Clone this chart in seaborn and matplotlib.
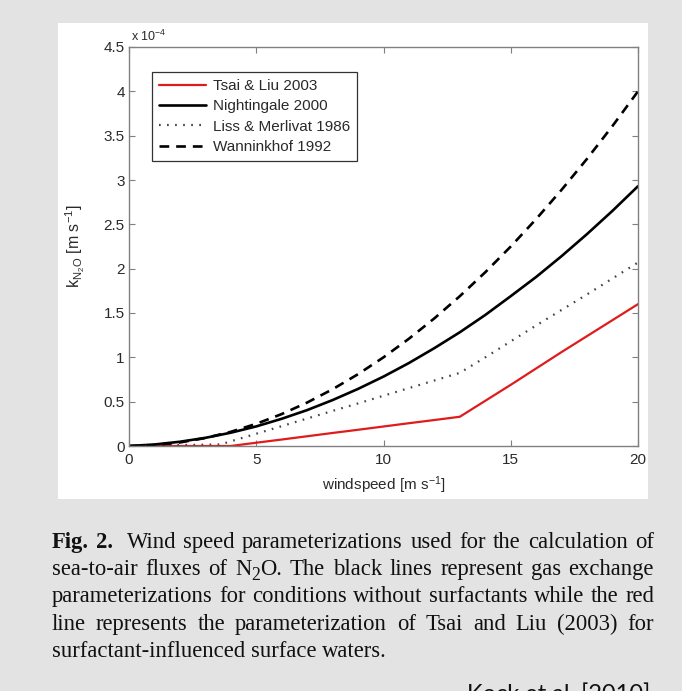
import matplotlib
matplotlib.use("Agg")
import matplotlib.pyplot as plt
import seaborn as sns
from matplotlib.patches import Rectangle
from matplotlib.transforms import IdentityTransform
from matplotlib.ticker import FixedLocator, FuncFormatter

# ---------------- data (k in units of 1e-4 m/s) ----------------
wind_tsai = [0, 1, 2, 3, 4, 5, 6, 7, 8, 9, 10, 11, 12, 13, 14, 15, 16, 17, 18, 19, 20]
k_tsai = [0, 0, 0, 0, 0, 0.037, 0.073, 0.11, 0.147, 0.183, 0.22, 0.257, 0.293, 0.33,
          0.51, 0.69, 0.875, 1.06, 1.24, 1.42, 1.60]

wind_night = [0, 1, 2, 3, 4, 5, 6, 7, 8, 9, 10, 11, 12, 13, 14, 15, 16, 17, 18, 19, 20]
k_night = [0, 0.017, 0.048, 0.092, 0.150, 0.221, 0.307, 0.405, 0.518, 0.644, 0.783,
           0.936, 1.104, 1.283, 1.478, 1.69, 1.907, 2.142, 2.391, 2.653, 2.93]

wind_liss = [0, 1, 2, 3, 3.6, 4, 5, 6, 7, 8, 9, 10, 11, 12, 13, 14, 15, 16, 17, 18, 19, 20]
k_liss = [0, 0.005, 0.010, 0.015, 0.018, 0.053, 0.138, 0.224, 0.31, 0.396, 0.48, 0.567,
          0.653, 0.739, 0.825, 1.0, 1.18, 1.36, 1.535, 1.71, 1.89, 2.07]

wind_wann = [0, 1, 2, 3, 4, 5, 6, 7, 8, 9, 10, 11, 12, 13, 14, 15, 16, 17, 18, 19, 20]
k_wann = [0, 0.01, 0.04, 0.09, 0.16, 0.25, 0.36, 0.49, 0.64, 0.81, 1.00, 1.21, 1.44,
          1.69, 1.96, 2.25, 2.56, 2.89, 3.24, 3.61, 4.00]

series_labels = ["Tsai & Liu 2003", "Nightingale 2000", "Liss & Merlivat 1986", "Wanninkhof 1992"]
x_ticks = [0, 5, 10, 15, 20]
y_ticks = [0, 0.5, 1, 1.5, 2, 2.5, 3, 3.5, 4, 4.5]

caption_lines = [
    "Fig. 2.  Wind speed parameterizations used for the calculation of",
    "sea-to-air fluxes of N2O. The black lines represent gas exchange",
    "parameterizations for conditions without surfactants while the red",
    "line represents the parameterization of Tsai and Liu (2003) for",
    "surfactant-influenced surface waters.",
]
source_text = "Kock et al. [2010]"

# ---------------- style ----------------
sns.set_theme(style="white")
plt.rcParams["font.family"] = ["Liberation Sans", "DejaVu Sans"]
plt.rcParams["mathtext.fontset"] = "custom"
plt.rcParams["mathtext.rm"] = "Liberation Sans"
plt.rcParams["mathtext.it"] = "Liberation Sans:italic"
plt.rcParams["mathtext.bf"] = "Liberation Sans:bold"
plt.rcParams["lines.scale_dashes"] = False

W, H = 682, 691
fig = plt.figure(figsize=(W / 100, H / 100), dpi=100)
fig.patch.set_facecolor("#e3e3e3")

# white panel behind the chart
panel = Rectangle((58 / W, 1 - 499 / H), (648 - 58) / W, (499 - 23) / H,
                  transform=fig.transFigure, facecolor="white",
                  edgecolor="none", zorder=-10)
fig.add_artist(panel)

ax = fig.add_axes([129 / W, 1 - 446 / H, (638 - 129) / W, (446 - 47) / H])
ax.set_zorder(1)
ax.set_facecolor("white")

TXT = "#2a2a2a"
sns.lineplot(x=wind_tsai, y=k_tsai, ax=ax, color="#e01b1b", lw=1.6,
             label=series_labels[0], errorbar=None)
sns.lineplot(x=wind_night, y=k_night, ax=ax, color="black", lw=1.9,
             label=series_labels[1], errorbar=None)
sns.lineplot(x=wind_liss, y=k_liss, ax=ax, color="#444444", lw=1.6,
             label=series_labels[2], errorbar=None)
ax.lines[-1].set_dashes([1.2, 4.6])
sns.lineplot(x=wind_wann, y=k_wann, ax=ax, color="black", lw=1.9,
             label=series_labels[3], errorbar=None)
ax.lines[-1].set_dashes([7, 5])

ax.set_xlim(0, 20)
ax.set_ylim(0, 4.5)
ax.xaxis.set_major_locator(FixedLocator(x_ticks))
ax.yaxis.set_major_locator(FixedLocator(y_ticks))
fmt = FuncFormatter(lambda v, p: "%g" % v)
ax.xaxis.set_major_formatter(fmt)
ax.yaxis.set_major_formatter(fmt)

for s in ax.spines.values():
    s.set_visible(True)
    s.set_color("#808080")
    s.set_linewidth(1.0)
ax.tick_params(axis="both", which="major", direction="in", length=4, width=0.8,
               color="#808080", labelsize=11, labelcolor=TXT,
               top=True, right=True, bottom=True, left=True)
ax.tick_params(axis="y", pad=3)
ax.tick_params(axis="x", pad=5)

ax.set_xlabel(r"windspeed [m s$^{-1}$]", fontsize=11, color=TXT)
ax.set_ylabel(r"k$_{\mathrm{N_2O}}$ [m s$^{-1}$]", fontsize=11.5, color=TXT)
ax.xaxis.set_label_coords(0.5, -0.072)
ax.yaxis.set_label_coords(-0.082, 0.5)

ax.text(0.004, 1.008, r"x 10$^{-4}$", transform=ax.transAxes, ha="left",
        va="bottom", fontsize=9, color=TXT)

leg = ax.legend(loc="upper left", bbox_to_anchor=(0.045, 0.937), borderaxespad=0,
                fontsize=11, handlelength=3.1, handletextpad=0.45, labelspacing=0.42,
                borderpad=0.45, fancybox=False, framealpha=1, edgecolor="#333333")
leg.get_frame().set_linewidth(0.9)
for t in leg.get_texts():
    t.set_color(TXT)

# ---------------- caption (justified, word by word) ----------------
renderer = fig.canvas.get_renderer()
L_X, R_X = 52, 654
baselines = [548, 575, 602, 630, 657]
ident = IdentityTransform()
MIN_GAP = 6.5
MAX_FS = 17.0


def tokens_for(line):
    toks, gap_weights = [], []
    words = line.split(" ")
    for i, w in enumerate(words):
        if w == "":
            gap_weights[-1] += 0.8
            continue
        bold = line.startswith("Fig.") and i < 2
        if w.startswith("N2O"):
            pieces = [("N", 1.0, 0.0), ("2", 0.78, -0.22), (w[2:], 1.0, 0.0)]
        else:
            pieces = [(w, 1.0, 0.0)]
        toks.append((pieces, "bold" if bold else "normal"))
        gap_weights.append(1.0)
    return toks, gap_weights[:-1]


def width_of(txt, fs, weight):
    t = fig.text(0, 0, txt, transform=ident, fontsize=fs, fontweight=weight,
                 family=["Liberation Serif", "DejaVu Serif"])
    w = t.get_window_extent(renderer).width
    t.remove()
    return w


# largest common font size for which all justified lines fit
REF = 10.0
parsed = [tokens_for(l) for l in caption_lines]
fs = MAX_FS
for li, (toks, gws) in enumerate(parsed[:-1]):
    wsum = sum(width_of(p[0], REF * p[1], wt) for pieces, wt in toks for p in pieces)
    fit = (R_X - L_X - MIN_GAP * sum(gws)) / wsum * REF
    fs = min(fs, fit)

space_w = fs * 0.25 * 100 / 72
for li, (toks, gws) in enumerate(parsed):
    arts = []
    for pieces, wt in toks:
        row = []
        for txt, sc, dy in pieces:
            t = fig.text(0, 0, txt, transform=ident, fontsize=fs * sc, fontweight=wt,
                         family=["Liberation Serif", "DejaVu Serif"], ha="left",
                         va="baseline", color="#111111")
            row.append((t, t.get_window_extent(renderer).width, dy * fs * 100 / 72))
        arts.append(row)
    widths = [sum(a[1] for a in row) for row in arts]
    if li < len(parsed) - 1:
        gap = (R_X - L_X - sum(widths)) / sum(gws)
    else:
        gap = space_w
    x = L_X
    yb = H - baselines[li]
    for k, row in enumerate(arts):
        for t, wd, dy in row:
            t.set_position((x, yb + dy))
            x += wd
        if k < len(gws):
            x += gap * gws[k]

fig.text(650 / W, 1 - 701 / H, source_text, ha="right", va="baseline",
         fontsize=17, family=["Lato", "DejaVu Sans"], color="#111111")

fig.savefig("out.png", dpi=100, facecolor=fig.get_facecolor())
